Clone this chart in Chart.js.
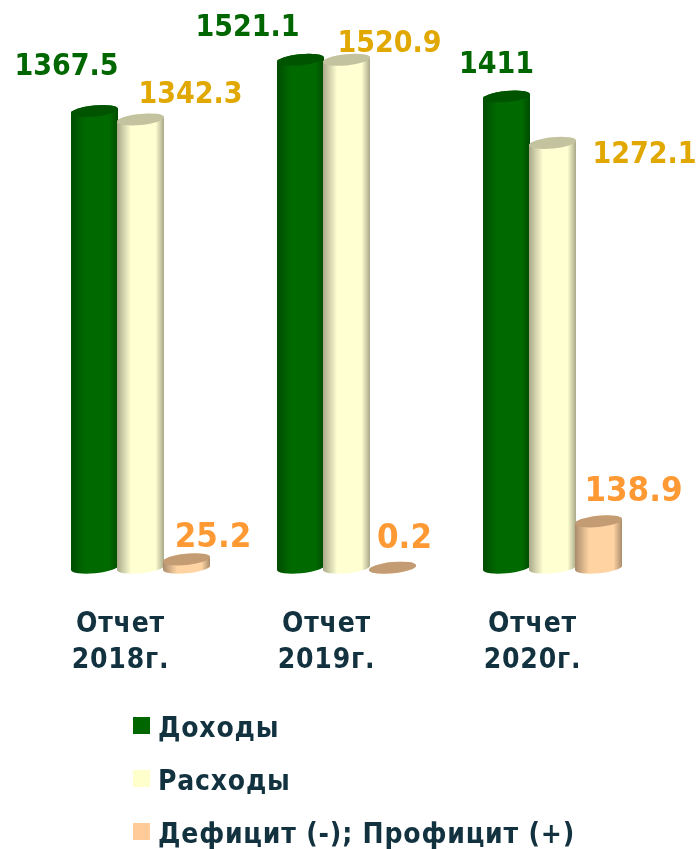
<!DOCTYPE html>
<html>
<head>
<meta charset="utf-8">
<script src="https://cdn.jsdelivr.net/npm/chart.js@4"></script>
<style>
  html, body { margin: 0; background: #fff; }
  canvas { display: block; }
</style>
</head>
<body>
<canvas id="myChart" width="698" height="849"></canvas>
<script>
// Budget chart, 3 reports //

const categories = [['Отчет', '2018г.'], ['Отчет', '2019г.'], ['Отчет', '2020г.']];
const seriesNames = ['Доходы', 'Расходы', 'Дефицит (-); Профицит (+)'];

const income = [1367.5, 1521.1, 1411];
const expense = [1342.3, 1520.9, 1272.1];
const balance = [25.2, 0.2, 138.9];

// flat colour, then cylinder edge / middle / top cap
const flatColors = ['#006600', '#ffffcc', '#ffcc99'];
const edgeColors = ['#004c00', '#a9a98a', '#a98c6c'];
const midColors = ['#006a00', '#ffffd2', '#ffd3a2'];
const capColors = ['#005400', '#c3c3a0', '#c49c74'];
const labelColors = ['#006600', '#e0a800', '#ff9933'];
const labelSizes = [30, 30, 34.5];
const textColor = '#12323f';
const fontName = '"DejaVu Sans Condensed", "DejaVu Sans", sans-serif';

// label offset from the top of each bar: [dx, dy] to the label's centre/baseline
const labelOffsets = [
  [[-28, -36], [-53, -24], [-10, -24]],
  [[50, -16], [43, -8], [92, 20]],
  [[26.5, -12], [12, -20], [35, -20]]
];

const cylinders = {
  id: 'cylinders',
  afterDatasetsDraw(chart) {
    const ctx = chart.ctx;
    const ry = 5.6;
    const tilt = -0.1;
    chart.data.datasets.forEach((ds, i) => {
      chart.getDatasetMeta(i).data.forEach((bar) => {
        const left = bar.x - bar.width / 2 - 0.5;
        const w = bar.width + 1;
        const a = w / 2 / Math.cos(tilt);
        const grad = ctx.createLinearGradient(left, 0, left + w, 0);
        grad.addColorStop(0, edgeColors[i]);
        grad.addColorStop(0.3, midColors[i]);
        grad.addColorStop(0.82, midColors[i]);
        grad.addColorStop(1, edgeColors[i]);
        ctx.save();
        // body: lower half of the bottom ellipse, up to the upper half of the top one
        ctx.fillStyle = grad;
        ctx.beginPath();
        ctx.ellipse(bar.x, bar.base, a, ry, tilt, 0, Math.PI);
        ctx.ellipse(bar.x, bar.y, a, ry, tilt, Math.PI, Math.PI * 2);
        ctx.closePath();
        ctx.fill();
        ctx.fillStyle = capColors[i];
        ctx.beginPath();
        ctx.ellipse(bar.x, bar.y, a, ry, tilt, 0, Math.PI * 2);
        ctx.fill();
        ctx.restore();
      });
    });
  }
};

const valueLabels = {
  id: 'valueLabels',
  afterDraw(chart) {
    const ctx = chart.ctx;
    ctx.save();
    ctx.textAlign = 'center';
    ctx.letterSpacing = '0px';
    chart.data.datasets.forEach((ds, i) => {
      ctx.font = 'bold ' + labelSizes[i] + 'px ' + fontName;
      chart.getDatasetMeta(i).data.forEach((bar, j) => {
        const off = labelOffsets[i][j];
        ctx.fillStyle = labelColors[i];
        ctx.fillText(String(ds.data[j]), bar.x + off[0], bar.y + off[1]);
      });
    });
    ctx.restore();
  }
};

const stackedLegend = {
  id: 'stackedLegend',
  beforeDraw(chart) {
    chart.ctx.letterSpacing = '0.8px';
  },
  afterDraw(chart) {
    const ctx = chart.ctx;
    ctx.save();
    ctx.font = 'bold 28px ' + fontName;
    ctx.textBaseline = 'alphabetic';
    chart.data.datasets.forEach((ds, i) => {
      const y = 717 + i * 53;
      ctx.fillStyle = flatColors[i];
      ctx.fillRect(133, y, 17, 17);
      ctx.fillStyle = textColor;
      ctx.fillText(ds.label, 158, y + 20);
    });
    ctx.restore();
  }
};

const chart = document.getElementById('myChart');
const myChart = new Chart(chart, {
  type: 'bar',
  data: {
    labels: categories,
    datasets: [
      { label: seriesNames[0], data: income, backgroundColor: flatColors[0] },
      { label: seriesNames[1], data: expense, backgroundColor: flatColors[1] },
      { label: seriesNames[2], data: balance, backgroundColor: flatColors[2] }
    ]
  },
  options: {
    responsive: false,
    animation: false,
    layout: { padding: { left: 37.5, right: 42.5, top: 0, bottom: 139 } },
    datasets: { bar: { categoryPercentage: 0.67, barPercentage: 1 } },
    plugins: {
      legend: { display: false },
      tooltip: { enabled: false }
    },
    scales: {
      y: { display: false, min: 0, max: 1700 },
      x: {
        grid: { display: false },
        border: { display: false },
        ticks: {
          color: textColor,
          padding: 31,
          labelOffset: -20,
          maxRotation: 0,
          font: { family: fontName, size: 28, weight: 'bold', lineHeight: 1.29 }
        }
      }
    }
  },
  plugins: [cylinders, valueLabels, stackedLegend]
});
</script>
</body>
</html>
